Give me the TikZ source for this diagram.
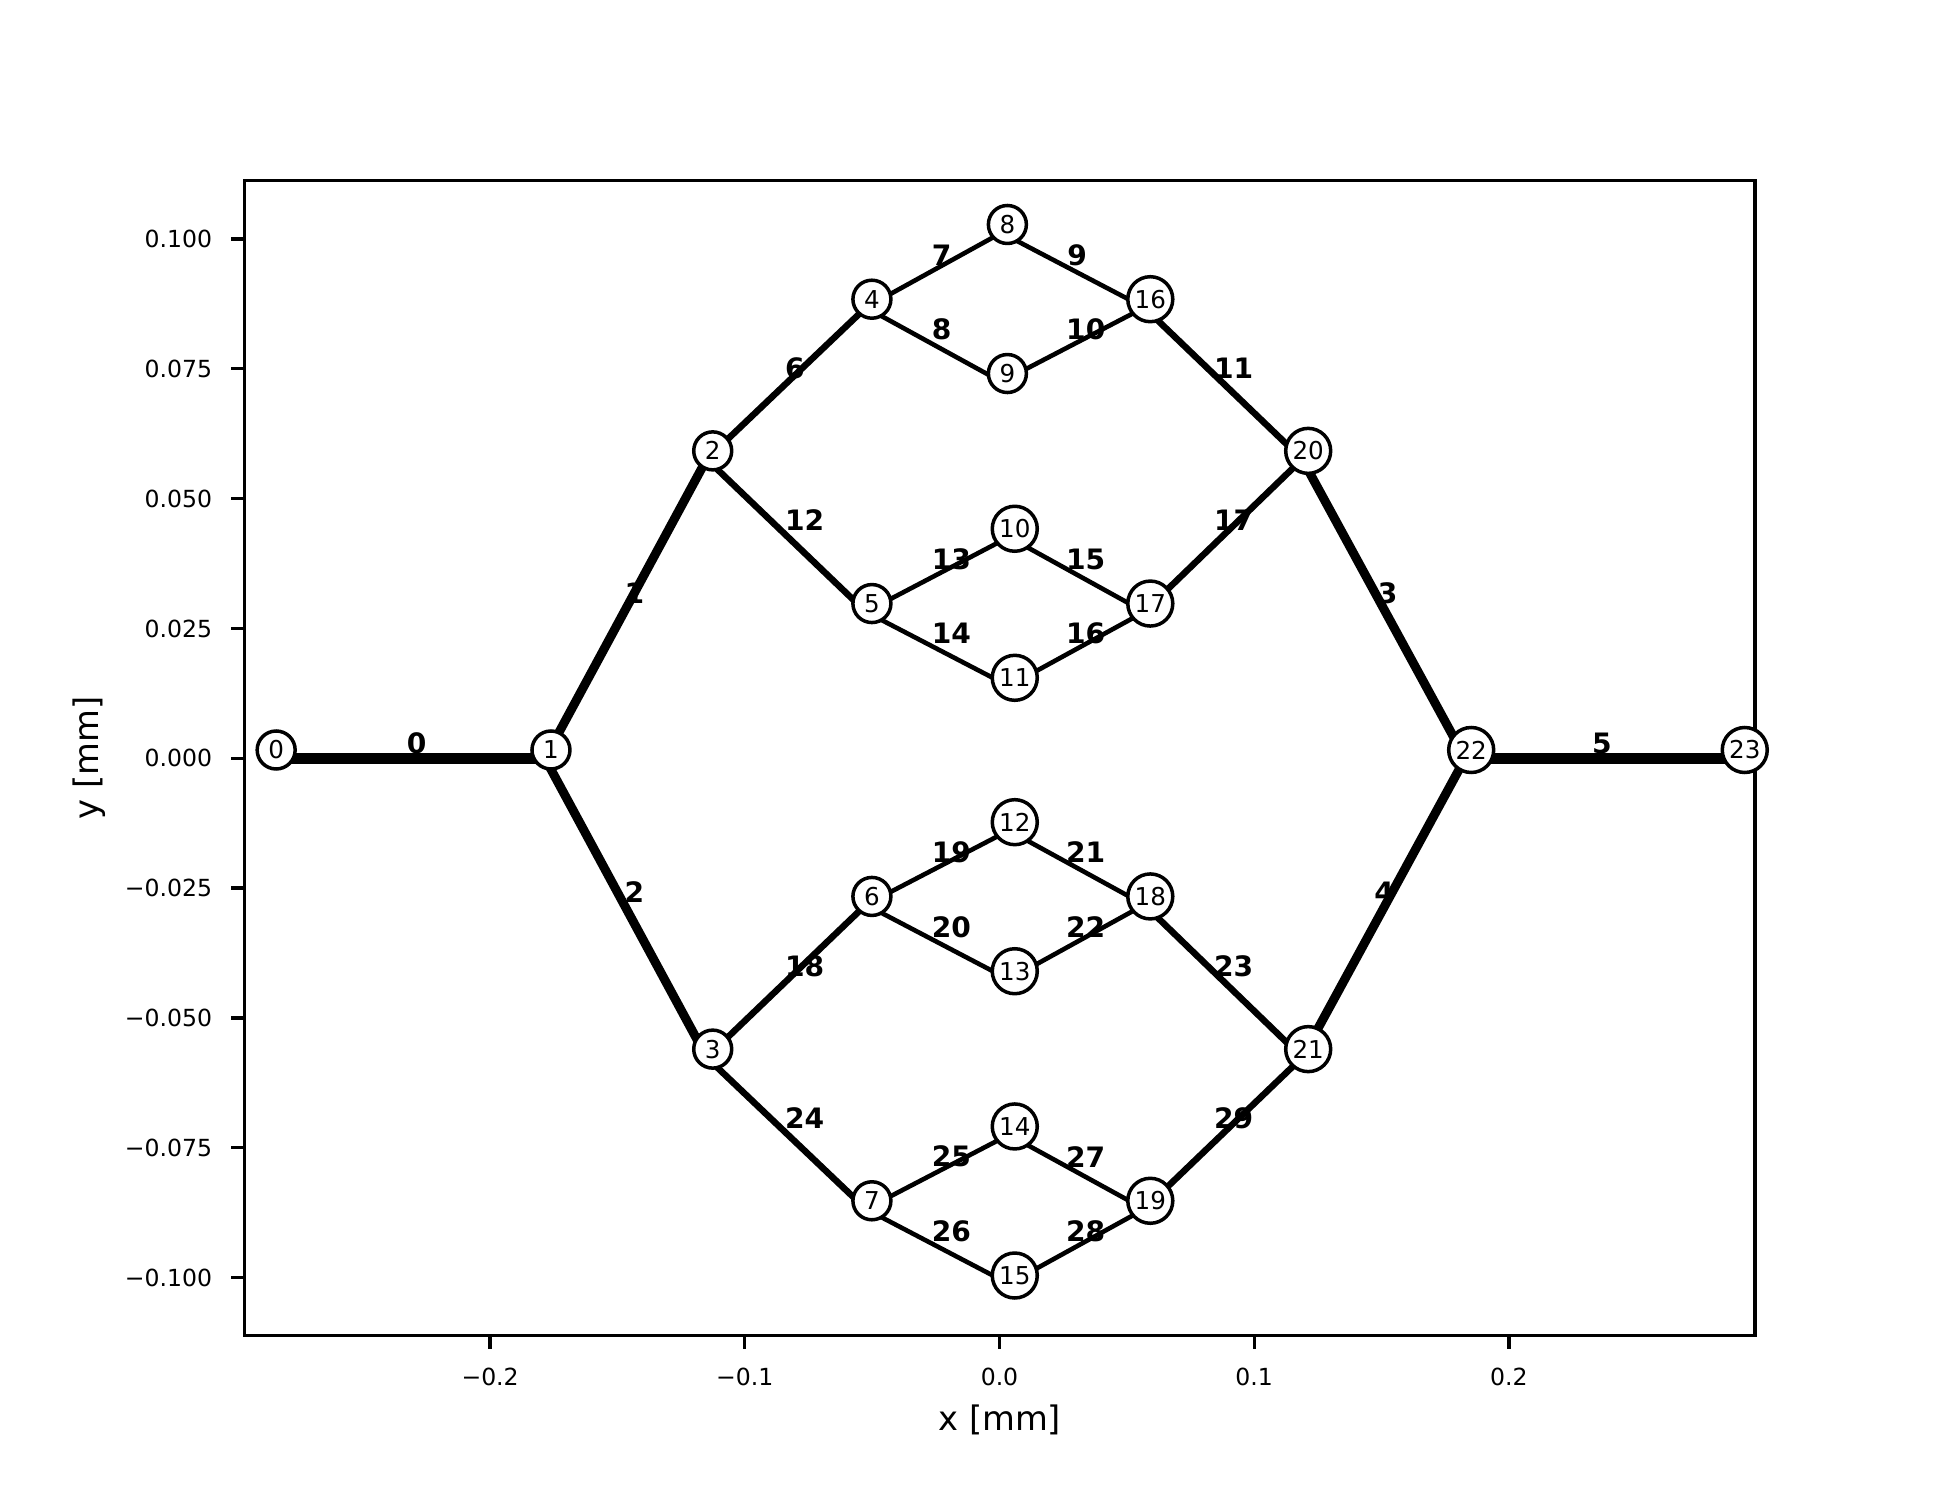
\documentclass[tikz,border=0pt]{standalone}
\usepackage{fontspec}
\setmainfont{DejaVu Sans}
\usetikzlibrary{backgrounds}

\begin{document}
\begin{tikzpicture}[
    junction/.style={circle, draw, fill=white, line width=0.35mm, inner sep=0pt,
        minimum size=#1, yshift=0.83mm, font=\fontsize{7}{8}\selectfont},
    pipe/.style={line width=#1, black},
    elabel/.style={inner sep=0pt, font=\fontsize{8}{9}\selectfont\bfseries},
    ticklab/.style={inner sep=0pt, font=\fontsize{6.7}{8}\selectfont},
    axlab/.style={inner sep=0pt, font=\fontsize{9.6}{11}\selectfont}
]
    \useasboundingbox (0,0) rectangle (19.5,15);
    \node[axlab, anchor=base] (xlab) at (9.9975,0.693) {x [mm]};
    \node[axlab, anchor=base, rotate=90] (ylab) at (0.98,7.42) {y [mm]};

    \begin{scope}[shift={(9.995,7.417)}, x=25.47cm, y=51.93cm]
        % axes
        \draw[line width=0.33mm] (-0.2964,-0.1111) rectangle (0.2966,0.1112);
        \foreach \v/\t [count=\k] in {-0.2/−0.2, -0.1/−0.1, 0/0.0, 0.1/0.1, 0.2/0.2} {
            \draw[line width=0.33mm] (\v,-0.1111) -- ++(0,-1.4mm);
            \node[ticklab, anchor=north, yshift=-3.17mm] (xt\k) at (\v,-0.1111) {\t};
        }
        \foreach \v/\t [count=\k] in {-0.1/−0.100, -0.075/−0.075, -0.05/−0.050, -0.025/−0.025,
                0/0.000, 0.025/0.025, 0.05/0.050, 0.075/0.075, 0.1/0.100} {
            \draw[line width=0.33mm] (-0.2964,\v) -- ++(-1.4mm,0);
            \node[ticklab, anchor=east, xshift=-3.18mm] (yt\k) at (-0.2964,\v) {\t};
        }

        % junctions
        \foreach \i/\x/\y/\s in {0/-0.2840/0/3.8mm, 1/-0.1761/0/3.8mm,
                2/-0.1126/0.0576/3.8mm, 3/-0.1126/-0.0576/3.8mm,
                4/-0.0501/0.0868/3.8mm, 5/-0.0501/0.0282/3.8mm,
                6/-0.0501/-0.0282/3.8mm, 7/-0.0501/-0.0868/3.8mm,
                8/0.0031/0.1012/3.8mm, 9/0.0031/0.0725/3.8mm,
                10/0.0060/0.0426/4.5mm, 11/0.0060/0.0139/4.5mm,
                12/0.0060/-0.0139/4.5mm, 13/0.0060/-0.0426/4.5mm,
                14/0.0060/-0.0725/4.5mm, 15/0.0060/-0.1012/4.5mm,
                16/0.0592/0.0868/4.5mm, 17/0.0592/0.0282/4.5mm,
                18/0.0592/-0.0282/4.5mm, 19/0.0592/-0.0868/4.5mm,
                20/0.1212/0.0576/4.5mm, 21/0.1212/-0.0576/4.5mm,
                22/0.1852/0/4.5mm, 23/0.2926/0/4.5mm} {
            \node[junction=\s] (n\i) at (\x,\y) {\i};
        }

        % segments, label first so the line sits on top of it
        \begin{scope}[on background layer]
            \foreach \a/\b/\l/\w/\dx in {0/1/0/1.13/0.31, 1/2/1/0.9/0.25, 1/3/2/0.9/0.25,
                    20/22/3/0.9/-0.2, 21/22/4/0.9/-0.56, 22/23/5/1.13/-0.62,
                    2/4/6/0.65/0.25, 4/8/7/0.46/0.19, 4/9/8/0.46/0.19,
                    8/16/9/0.46/-0.18, 9/16/10/0.46/0.69, 16/20/11/0.65/0.44,
                    2/5/12/0.65/1.24, 5/10/13/0.46/0.81, 5/11/14/0.46/0.81,
                    10/17/15/0.46/0.31, 11/17/16/0.46/0.31, 17/20/17/0.65/0.44,
                    3/6/18/0.65/1.24, 6/12/19/0.46/0.81, 6/13/20/0.46/0.81,
                    12/18/21/0.46/0.31, 13/18/22/0.46/0.31, 18/21/23/0.65/0.44,
                    3/7/24/0.65/1.24, 7/14/25/0.46/0.81, 7/15/26/0.46/0.81,
                    14/19/27/0.46/0.31, 15/19/28/0.46/0.31, 19/21/29/0.65/0.44} {
                \path (n\a.center) -- (n\b.center)
                    node[elabel, midway, xshift=\dx mm, yshift=0.7mm] (e\l) {\l};
                \draw[pipe=\w mm] ([shift={(-0.6mm,-0.83mm)}]n\a.center)
                    -- ([shift={(-0.6mm,-0.83mm)}]n\b.center);
            }
        \end{scope}
    \end{scope}
\end{tikzpicture}
\end{document}
